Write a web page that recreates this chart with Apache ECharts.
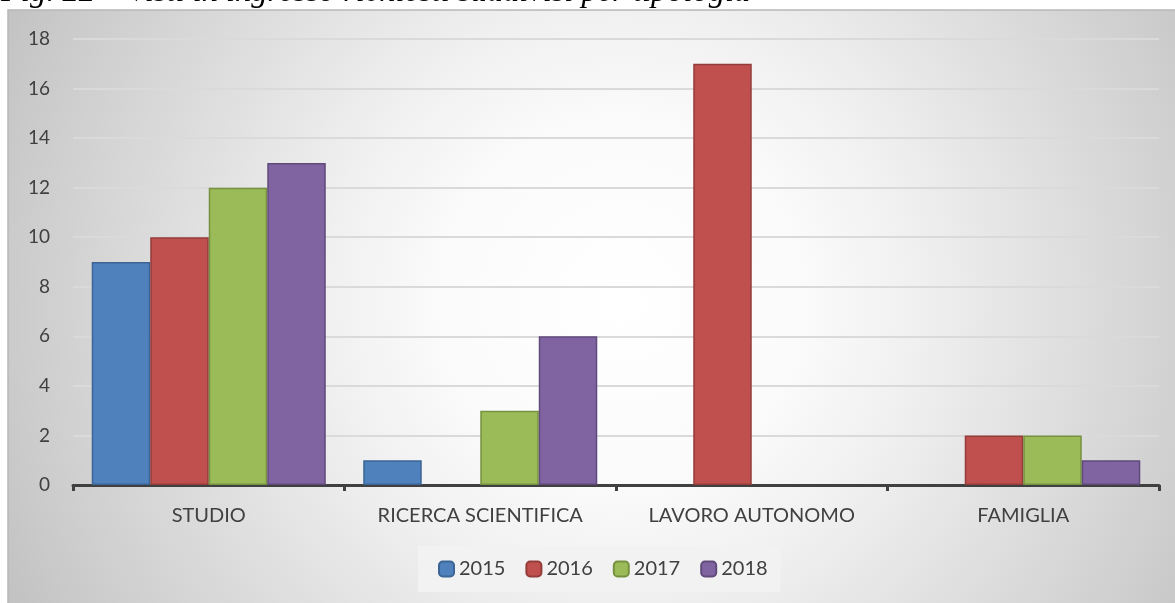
<!DOCTYPE html>
<html>
<head>
<meta charset="utf-8">
<script src="https://cdn.jsdelivr.net/npm/echarts@6/dist/echarts.min.js"></script>
<style>
	html, body { margin: 0; padding: 0; background: #fff; overflow: hidden; }
	#chart { width: 1175px; height: 603px; }
</style>
</head>
<body>
<div id="chart"></div>
<script>
var categories = ['STUDIO', 'RICERCA SCIENTIFICA', 'LAVORO AUTONOMO', 'FAMIGLIA'];
var years = ['2015', '2016', '2017', '2018'];
var v2015 = [9, 1, 0, 0];
var v2016 = [10, 0, 17, 2];
var v2017 = [12, 3, 0, 2];
var v2018 = [13, 6, 0, 1];
var yTicks = { min: 0, max: 18, step: 2 };

var fills = ['#4f81bd', '#c0504d', '#9bbb59', '#8064a2'];
var borders = ['#3a6595', '#943c3a', '#76913f', '#604a7b'];
var values = [v2015, v2016, v2017, v2018];

var series = [];
for (var i = 0; i < years.length; i++) {
	// zero bars: no border line on the axis
	var data = values[i].map(function(v) {
		return v === 0 ? { value: 0, itemStyle: { borderWidth: 0 } } : v;
	});
	series.push({
		name: years[i],
		type: 'bar',
		barGap: '0%',
		barCategoryGap: '13.8%',
		itemStyle: {
			color: fills[i],
			borderColor: borders[i],
			borderWidth: 1.5
		},
		data: data
	});
}

var myChart = echarts.init(document.getElementById('chart'));
var option = {
	animation: false,
	title: {
		text: 'Fig. 22 – Visti in ingresso richiesti suddivisi per tipologia',
		left: 1,
		top: -24,
		padding: 0,
		textStyle: {
			fontFamily: 'Liberation Serif',
			fontStyle: 'italic',
			fontWeight: 'normal',
			fontSize: 32.5,
			color: '#000'
		}
	},
	graphic: [{
		type: 'rect',
		z: -10,
		silent: true,
		shape: { x: 8, y: 10, width: 1172, height: 598 },
		style: {
			fill: {
				type: 'radial', x: 0.523, y: 0.487, r: 1.175,
				colorStops: [
					{ offset: 0, color: '#ffffff' },
					{ offset: 0.25, color: '#fbfbfb' },
					{ offset: 0.42, color: '#f0f0f0' },
					{ offset: 0.87, color: '#cbcbcb' },
					{ offset: 1, color: '#bfbfbf' }
				]
			},
			stroke: '#b8b8b8',
			lineWidth: 1.5
		}
	}],
	legend: {
		data: years,
		left: 418,
		top: 546,
		padding: [13, 13, 13, 20],
		itemGap: 20,
		itemWidth: 15,
		itemHeight: 15,
		backgroundColor: '#f2f2f2',
		textStyle: { fontFamily: 'Lato', fontSize: 20, color: '#404040' }
	},
	grid: {
		left: 73,
		right: 16,
		top: 39,
		bottom: 118
	},
	xAxis: {
		type: 'category',
		data: categories,
		axisLine: { lineStyle: { color: '#404040', width: 3 } },
		axisTick: { show: true, length: 6, lineStyle: { color: '#404040', width: 3 } },
		axisLabel: { margin: 21, fontFamily: 'Lato', fontSize: 20, color: '#404040' }
	},
	yAxis: {
		type: 'value',
		min: yTicks.min,
		max: yTicks.max,
		interval: yTicks.step,
		axisLine: { show: false },
		axisTick: { show: false },
		axisLabel: { margin: 23, fontFamily: 'Lato', fontSize: 19, color: '#404040' },
		splitLine: { lineStyle: { color: '#dadada', width: 2 } }
	},
	series: series
};
myChart.setOption(option);
</script>
</body>
</html>
